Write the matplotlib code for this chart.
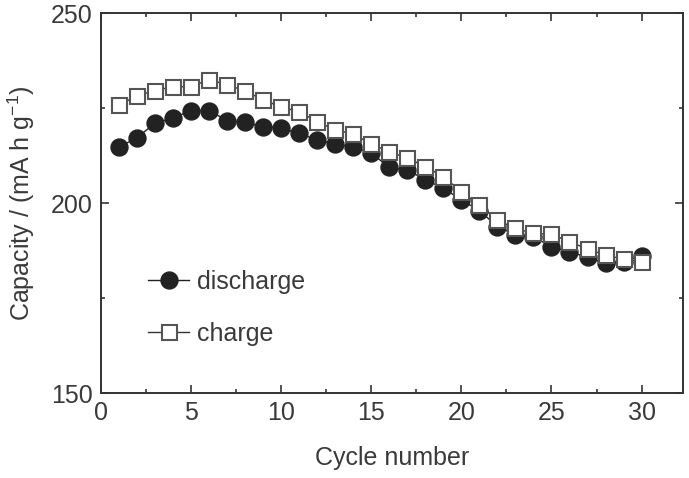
import numpy as np
import matplotlib
matplotlib.use('Agg')
import matplotlib.pyplot as plt
from matplotlib.ticker import MultipleLocator

# Plot Parameters
plt.rcParams['font.family'] = ['Liberation Sans', 'DejaVu Sans']
plt.rcParams['mathtext.fontset'] = 'custom'
plt.rcParams['mathtext.rm'] = 'Liberation Sans'
plt.rcParams['mathtext.it'] = 'Liberation Sans'
plt.rcParams['text.color'] = '#3a3a3a'
plt.rcParams['axes.labelcolor'] = '#3a3a3a'
plt.rcParams['xtick.color'] = '#333333'
plt.rcParams['ytick.color'] = '#333333'
plt.rcParams['xtick.labelcolor'] = '#3a3a3a'
plt.rcParams['ytick.labelcolor'] = '#3a3a3a'

cycles = np.arange(1, 31)

discharge = [214.7, 217.2, 221.0, 222.4, 224.3, 224.3, 221.7, 221.2, 220.1, 219.7,
             218.3, 216.6, 215.5, 214.8, 213.1, 209.4, 208.7, 206.1, 203.9, 200.8,
             198.0, 193.8, 191.6, 191.1, 188.5, 187.2, 185.7, 184.1, 184.6, 186.1]

charge = [225.8, 228.2, 229.6, 230.6, 230.6, 232.5, 231.1, 229.5, 227.1, 225.3,
          224.0, 221.4, 219.2, 218.2, 215.5, 213.5, 211.8, 209.6, 206.9, 203.0,
          199.5, 195.5, 193.3, 192.0, 191.8, 189.8, 187.9, 186.3, 185.2, 184.6]

fs = 18

fig = plt.figure(figsize=(6.89, 4.78), dpi=100)
ax = fig.add_axes([0.1466, 0.1778, 0.8447, 0.795])

ax.plot(cycles, discharge, '-o', color='#222222', lw=1.0, ms=12.2,
        mfc='#222222', mec='#222222', label='discharge')
ax.plot(cycles, charge, '-s', color='#333333', lw=1.0, ms=10.8,
        mfc='white', mec='#555555', mew=1.5, label='charge')

ax.set_xlim(0, 32.3)
ax.set_ylim(150, 250)
ax.xaxis.set_major_locator(MultipleLocator(5))
ax.xaxis.set_minor_locator(MultipleLocator(2.5))
ax.yaxis.set_major_locator(MultipleLocator(50))
ax.yaxis.set_minor_locator(MultipleLocator(25))
ax.tick_params(which='both', direction='in', top=True, right=True,
               labelsize=fs, width=1.2)
ax.tick_params(which='major', length=6, pad=6)
ax.tick_params(which='minor', length=3)
for s in ax.spines.values():
    s.set_linewidth(1.4)
    s.set_color('#333333')

ax.set_xlabel('Cycle number', fontsize=fs, labelpad=15)
ax.set_ylabel(r'Capacity / (mA h g$^{-1}$)', fontsize=fs, labelpad=10)

ax.legend(loc='center left', bbox_to_anchor=(0.081, 0.224), frameon=False,
          fontsize=fs, borderpad=0, borderaxespad=0, handlelength=1.65,
          handletextpad=0.3, labelspacing=1.1)

fig.savefig('out.png', dpi=100)
